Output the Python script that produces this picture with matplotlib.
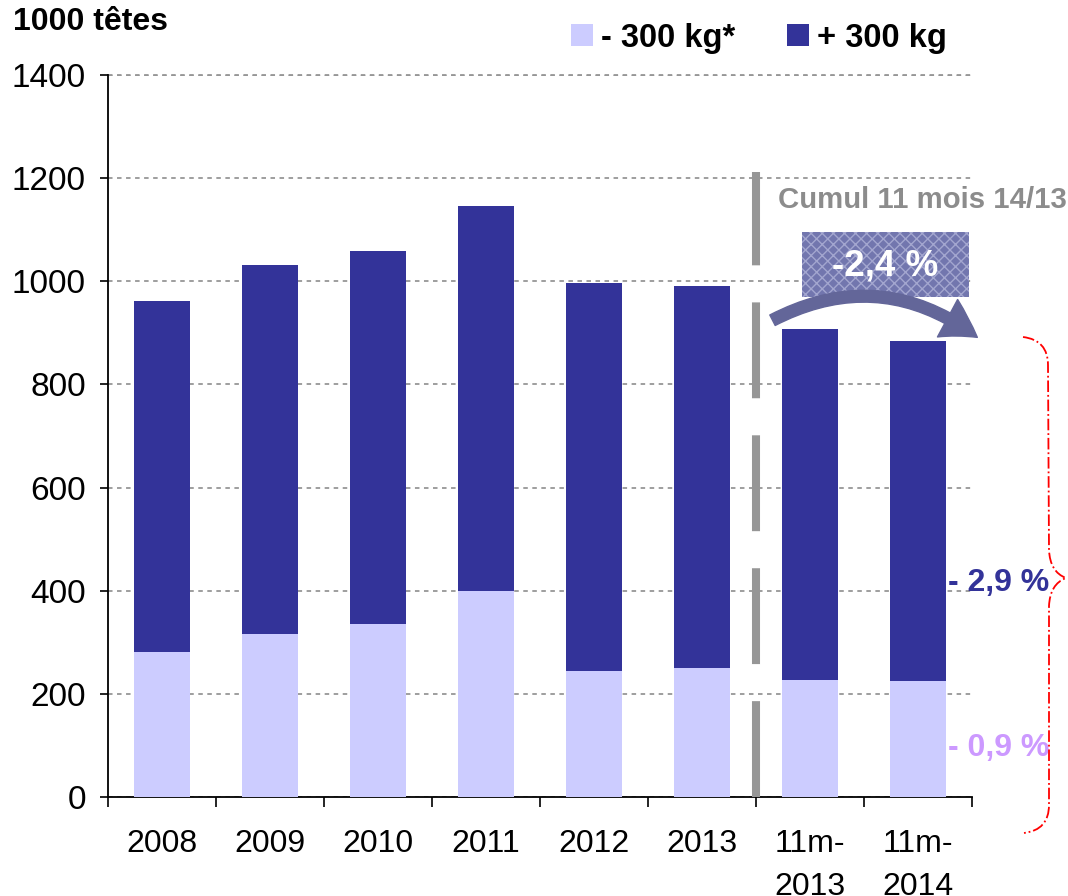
import matplotlib
matplotlib.use("Agg")
import matplotlib.pyplot as plt
from matplotlib.patches import Rectangle, FancyArrowPatch, PathPatch
from matplotlib.path import Path
import numpy as np

plt.rcParams['font.family'] = ['Liberation Sans', 'DejaVu Sans']

categories = ["2008", "2009", "2010", "2011", "2012", "2013", "11m-\n2013", "11m-\n2014"]
light_vals = [281, 316, 335, 399, 244, 250, 227, 225]          # - 300 kg*
total_vals = [962, 1032, 1059, 1146, 997, 991, 907, 884]       # total
heavy_vals = [t - l for t, l in zip(total_vals, light_vals)]   # + 300 kg
yticks = [0, 200, 400, 600, 800, 1000, 1200, 1400]

DARK = '#333399'
LIGHT = '#ccccff'
GRAY = '#969696'

W, H = 1068, 896
fig = plt.figure(figsize=(W / 100, H / 100), dpi=100)
ax = fig.add_axes([108 / W, 1 - 797 / H, (972 - 108) / W, (797 - 75) / H])

x = np.arange(len(categories))
ax.bar(x, light_vals, width=0.52, color=LIGHT, zorder=3, label='- 300 kg*')
ax.bar(x, heavy_vals, width=0.52, bottom=light_vals, color=DARK, zorder=3, label='+ 300 kg')

ax.set_xlim(-0.5, len(categories) - 0.5)
ax.set_ylim(0, 1400)
ax.set_yticks(yticks)
ax.tick_params(axis='y', labelsize=24, length=6, width=1.2, pad=10, direction='out')

# x ticks at category boundaries, labels at centres
ax.set_xticks(np.arange(-0.5, len(categories), 1.0))
ax.set_xticklabels([])
ax.set_xticks(x, minor=True)
ax.set_xticklabels(categories, minor=True, fontsize=23, linespacing=1.55)
ax.tick_params(axis='x', which='major', length=7, width=1.2, direction='out')
ax.tick_params(axis='x', which='minor', length=0, pad=23)

for s in ['top', 'right']:
    ax.spines[s].set_visible(False)
for s in ['left', 'bottom']:
    ax.spines[s].set_linewidth(1.3)

ax.yaxis.grid(True, color=GRAY, linestyle=(0, (2.5, 2.5)), linewidth=1.3, zorder=0)
ax.set_axisbelow(True)
ax.axhline(1400, color=GRAY, linestyle=(0, (2.5, 2.5)), linewidth=1.3, zorder=1, clip_on=False)

# vertical separator
ax.plot([5.5, 5.5], [0, 1212], color=GRAY, linewidth=5.8, linestyle=(0, (11.9, 4.6)),
        solid_capstyle='butt', dash_capstyle='butt', zorder=4, clip_on=False)

# title
fig.text(13 / W, 1 - 22 / H, "1000 têtes", fontsize=23, fontweight='bold', va='center', ha='left')

# legend
leg = ax.legend(loc='center left', bbox_to_anchor=(571 / W, 1 - 38 / H),
                bbox_transform=fig.transFigure, ncol=2, frameon=False,
                prop={'size': 23.5, 'weight': 'bold'}, handlelength=0.66, handleheight=0.66,
                handletextpad=0.25, columnspacing=1.6, borderpad=0, borderaxespad=0)

# annotations
ax.text(5.70, 1157, "Cumul 11 mois 14/13", fontsize=21.2, fontweight='bold', color='#8c8c8c',
        ha='left', va='center', clip_on=False)

plt.rcParams['hatch.linewidth'] = 1.0
box = Rectangle((5.926, 969.6), 7.472 - 5.926, 1095.6 - 969.6, facecolor='#7276ae',
                edgecolor='#a3a6cf', hatch='xxx', linewidth=0, zorder=5, clip_on=False)
ax.add_patch(box)
ax.text(6.70, 1030, "-2,4 %", fontsize=26.5, fontweight='bold', color='white',
        ha='center', va='center', zorder=6, clip_on=False)

arrow = FancyArrowPatch((5.63, 922), (7.57, 888), connectionstyle="arc3,rad=-0.32",
                        arrowstyle="simple,head_length=1.5,head_width=1.8,tail_width=0.5",
                        mutation_scale=17, color='#636699', zorder=6, clip_on=False)
ax.add_patch(arrow)

ax.text(7.28, 415, "- 2,9 %", fontsize=23, fontweight='bold', color=DARK,
        ha='left', va='center', zorder=6, clip_on=False)
ax.text(7.28, 95, "- 0,9 %", fontsize=23, fontweight='bold', color='#cc99ff',
        ha='left', va='center', zorder=6, clip_on=False)

# red brace (pixel guide -> data)
def p2d(px, py):
    return ((px - 108) / 108 - 0.5, (797 - py) / ((797 - 75) / 1400))

pts = [(1023, 337), (1048, 340), (1048, 365), (1049, 550), (1050, 572), (1066, 578),
       (1050, 584), (1049, 606), (1049, 805), (1049, 830), (1024, 833)]
codes = [Path.MOVETO, Path.CURVE3, Path.CURVE3, Path.LINETO, Path.CURVE3, Path.CURVE3,
         Path.CURVE3, Path.CURVE3, Path.LINETO, Path.CURVE3, Path.CURVE3]
brace = PathPatch(Path([p2d(*p) for p in pts], codes), facecolor='none', edgecolor='red',
                  linewidth=1.3, linestyle='-.', clip_on=False, zorder=6)
ax.add_patch(brace)

fig.savefig("out.png", dpi=100)
